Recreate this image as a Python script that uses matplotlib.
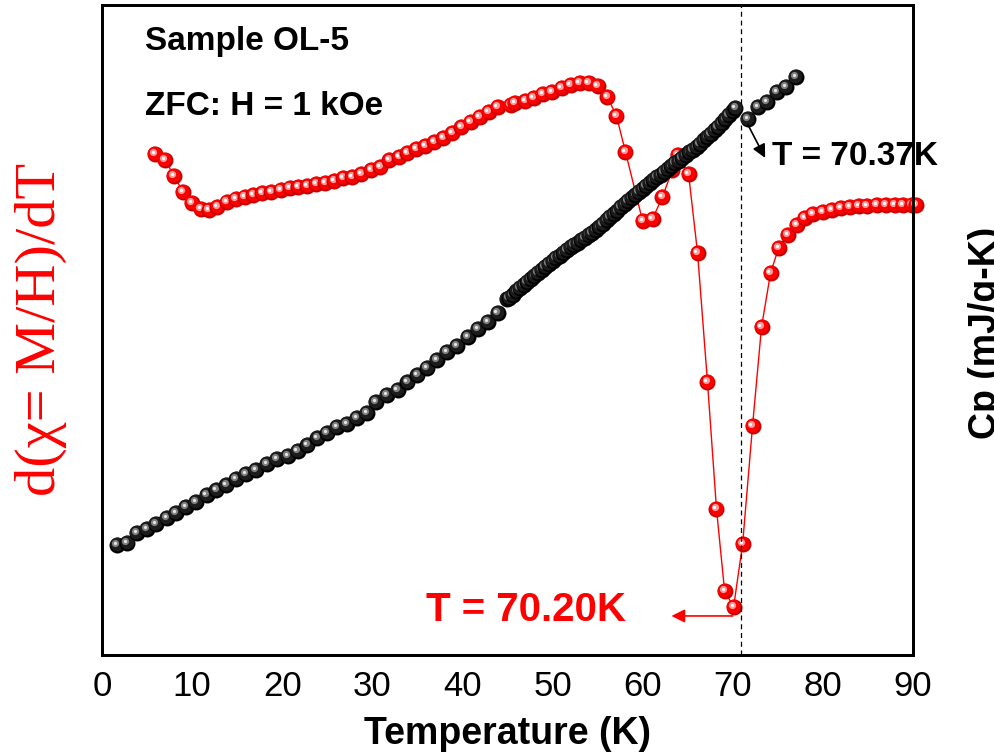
import matplotlib
matplotlib.use("Agg")
import matplotlib.pyplot as plt
import matplotlib.transforms as mtrans
from matplotlib import font_manager

# d(chi)/dT, ZFC at 1 kOe (arbitrary units)
T_chi = [5.9, 7.0, 8.0, 9.0, 10.0, 11.0, 11.9, 12.8, 13.9, 14.9, 15.9, 16.8, 17.8, 18.8,
         19.9, 20.9, 21.8, 22.8, 23.8, 24.8, 25.8, 26.8, 27.8, 28.8, 29.9, 30.9, 31.9,
         33.0, 33.9, 34.9, 35.9, 36.9, 37.9, 38.9, 39.9, 40.9, 41.9, 42.9, 43.9, 45.4,
         45.8, 47.0, 47.9, 48.9, 49.9, 51.0, 52.0, 53.0, 54.0, 55.0, 56.1, 57.1, 58.1,
         60.0, 61.1, 62.2, 63.3, 63.9, 65.1, 66.1, 67.2, 68.2, 69.1, 70.1, 71.1, 72.2,
         73.2, 74.2, 75.1, 76.1, 77.1, 78.0, 78.9, 80.0, 81.0, 82.0, 83.0, 84.0, 84.9,
         86.0, 87.0, 88.0, 88.9, 89.9, 90.3]
dchi = [5.01, 4.95, 4.79, 4.63, 4.52, 4.46, 4.45, 4.48, 4.53, 4.56, 4.58, 4.60, 4.62,
        4.63, 4.65, 4.67, 4.68, 4.69, 4.71, 4.72, 4.74, 4.77, 4.78, 4.81, 4.85, 4.88,
        4.95, 4.98, 5.02, 5.06, 5.09, 5.13, 5.17, 5.22, 5.28, 5.33, 5.38, 5.43, 5.48,
        5.50, 5.52, 5.54, 5.57, 5.61, 5.63, 5.67, 5.70, 5.72, 5.72, 5.69, 5.58, 5.39,
        5.03, 4.34, 4.36, 4.58, 4.85, 5.00, 4.81, 4.02, 2.73, 1.46, 0.64, 0.48, 1.11,
        2.29, 3.28, 3.82, 4.07, 4.20, 4.30, 4.37, 4.41, 4.43, 4.45, 4.47, 4.48, 4.49,
        4.49, 4.50, 4.50, 4.50, 4.50, 4.50, 4.50]

# specific heat Cp (mJ/g-K)
T_cp = [1.7, 2.8, 3.9, 5.0, 6.0, 7.2, 8.2, 9.3, 10.4, 11.6, 12.7, 13.8, 14.9, 16.0,
        17.1, 18.3, 19.4, 20.6, 21.7, 22.8, 23.9, 25.0, 26.1, 27.2, 28.3, 29.4, 30.4,
        31.6, 32.8, 33.9, 35.0, 36.1, 37.2, 38.3, 39.4, 40.6, 41.7, 42.8, 43.9, 44.9,
        45.2, 45.6, 46.0, 46.4, 46.8, 47.2, 47.6, 48.0, 48.4, 48.8, 49.2, 49.6, 50.0,
        50.4, 50.8, 51.2, 51.6, 52.0, 52.4, 52.8, 53.2, 53.6, 54.0, 54.4, 54.8, 55.2,
        55.6, 56.0, 56.4, 56.8, 57.2, 57.6, 58.0, 58.4, 58.8, 59.2, 59.6, 60.0, 60.4,
        60.8, 61.2, 61.6, 62.0, 62.4, 62.8, 63.2, 63.6, 64.0, 64.4, 64.8, 65.2, 65.6,
        66.0, 66.4, 66.8, 67.2, 67.6, 68.0, 68.4, 68.8, 69.2, 69.6, 70.0, 70.3, 71.7,
        72.8, 73.8, 74.9, 75.9, 77.0]
cp = [11.0, 11.2, 12.2, 12.6, 13.1, 13.7, 14.2, 14.8, 15.3, 16.0, 16.5, 17.0, 17.6,
      18.1, 18.5, 19.1, 19.6, 19.9, 20.4, 21.0, 21.7, 22.2, 22.8, 23.1, 23.7, 24.2,
      25.3, 26.0, 26.5, 27.3, 28.0, 28.7, 29.5, 30.3, 30.9, 31.8, 32.6, 33.3, 34.2,
      35.6, 35.7, 36.0, 36.4, 36.7, 37.0, 37.3, 37.6, 37.9, 38.2, 38.5, 38.8, 39.1,
      39.4, 39.7, 39.9, 40.2, 40.5, 40.8, 41.0, 41.2, 41.5, 41.7, 42.0, 42.2, 42.5,
      42.8, 43.1, 43.5, 43.8, 44.1, 44.4, 44.8, 45.1, 45.4, 45.7, 46.0, 46.3, 46.6,
      46.9, 47.2, 47.5, 47.8, 48.0, 48.3, 48.6, 48.9, 49.2, 49.4, 49.7, 50.0, 50.3,
      50.5, 50.8, 51.1, 51.5, 51.8, 52.1, 52.5, 52.8, 53.2, 53.6, 54.0, 54.4, 54.7,
      53.6, 54.8, 55.3, 56.3, 56.8, 57.8]

T_chi_min = 70.20
T_cp_peak = 70.37
T_line = 70.9

narrow = [f for f in ["Liberation Sans Narrow", "Liberation Sans", "DejaVu Sans"]
          if any(ff.name == f for ff in font_manager.fontManager.ttflist)]
sans = "Liberation Sans"

fig = plt.figure(figsize=(9.95, 7.55), dpi=100)
ax = fig.add_axes([0.1025, 0.1325, 0.815, 0.861])
ax2 = ax.twinx()


def balls(a, xs, ys, shades, ms, z):
    # shaded spheres: dark rim, body, highlight, glint
    layers = [(1.0, 0.0), (0.86, 0.5), (0.45, 1.3), (0.2, 1.5)]
    for xi, yi in zip(xs, ys):
        for (f, d), c in zip(layers, shades):
            tr = mtrans.offset_copy(a.transData, fig=fig, x=-d, y=d, units="points")
            a.plot([xi], [yi], "o", ms=ms * f, mfc=c, mew=0, transform=tr,
                   zorder=z, clip_on=False)


ax.plot(T_chi, dchi, "-", color="red", lw=1, zorder=2)
balls(ax, T_chi, dchi, ["#c80000", "#ff0000", "#ff9a9a", "#ffffff"], 11.5, 3)
balls(ax2, T_cp, cp, ["#000000", "#1c1c1c", "#808080", "#e6e6e6"], 11.5, 3)

ax.set_xlim(0, 90)
ax.set_ylim(0, 6.5)
ax2.set_ylim(0, 65)
ax2.axvline(T_line, color="black", lw=0.9, ls=(0, (4, 3)), zorder=1)

for a in (ax, ax2):
    a.set_yticks([])
    for s in a.spines.values():
        s.set_linewidth(2)
ax.set_xticks(range(0, 91, 10))
ax.tick_params(axis="x", length=0, pad=11)
for lb in ax.get_xticklabels():
    lb.set_family(narrow)
    lb.set_fontsize(25)

ax.set_xlabel("Temperature (K)", family=narrow, fontsize=27, fontweight="bold",
              labelpad=9)

ax.text(0.053, 0.943, "Sample OL-5", transform=ax.transAxes, family=sans,
        fontsize=24, fontweight="bold", va="center", ha="left")
ax.text(0.053, 0.843, "ZFC: H = 1 kOe", transform=ax.transAxes, family=sans,
        fontsize=24, fontweight="bold", va="center", ha="left")

ax.annotate("", xy=(63.2, 0.39), xytext=(70.0, 0.39),
            arrowprops=dict(arrowstyle="-|>", color="red", lw=1.2,
                            mutation_scale=20, shrinkA=0, shrinkB=0))
ax.text(47.1, 0.45, "T = %.2fK" % T_chi_min, color="red", family=sans,
        fontsize=29, fontweight="bold", ha="center", va="center")

ax2.annotate("", xy=(73.6, 49.7), xytext=(71.7, 53.0),
             arrowprops=dict(arrowstyle="-|>", color="black", lw=1.2,
                             mutation_scale=20, shrinkA=0, shrinkB=0),
             zorder=5)
ax2.text(74.4, 49.8, "T = %.2fK" % T_cp_peak, color="black", family=sans,
         fontsize=24, fontweight="bold", ha="left", va="center", clip_on=False,
         zorder=6)

fig.text(0.041, 0.563, "d(\u03c7= M/H)/dT", color="red", family="Liberation Serif",
         fontsize=42, rotation=90, ha="center", va="center")
fig.text(0.9725, 0.559, "Cp (mJ/g-K)", color="black", family=sans, fontsize=27,
         fontweight="bold", rotation=90, ha="left", va="center")

fig.savefig("out.png", dpi=100)
